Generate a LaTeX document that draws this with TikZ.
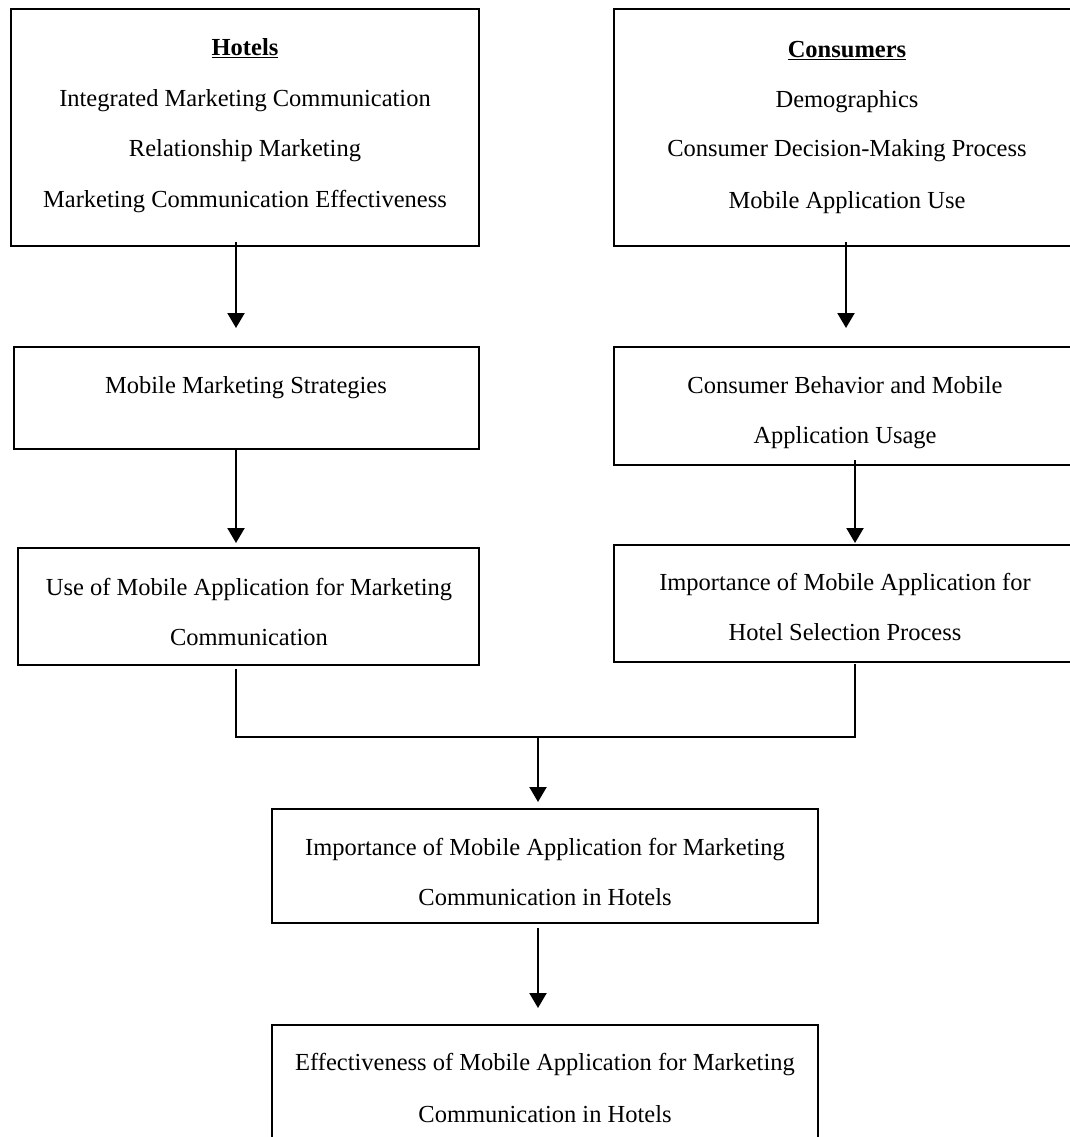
\documentclass[tikz,border=0pt]{standalone}
\usepackage{fontspec}
\setmainfont{Liberation Serif}
\usetikzlibrary{arrows.meta}
\tikzset{
  box/.style={draw, line width=1.7pt, rectangle, inner sep=0pt, outer sep=0pt},
  txt/.style={anchor=base, inner sep=0pt, font=\fontsize{24.5}{28}\selectfont},
  arr/.style={line width=2.2pt, -{Triangle[length=15pt,width=17pt]}},
  link/.style={line width=1.7pt}
}
\begin{document}
\begin{tikzpicture}[x=1pt,y=-1pt]
\useasboundingbox (0,0) rectangle (1070,1137);
\clip (0,0) rectangle (1070,1137);
\fill[white] (0,0) rectangle (1070,1137);
% boxes
\node[box, minimum width=468pt, minimum height=237pt] (b1) at (245,127.5) {};
\node[box, minimum width=464pt, minimum height=237pt] (b2) at (846,127.5) {};
\node[box, minimum width=465pt, minimum height=102pt] (b3) at (246.5,398) {};
\node[box, minimum width=464pt, minimum height=118pt] (b4) at (846,406) {};
\node[box, minimum width=461pt, minimum height=117pt] (b5) at (248.5,606.5) {};
\node[box, minimum width=464pt, minimum height=117pt] (b6) at (846,603.5) {};
\node[box, minimum width=546pt, minimum height=114pt] (b7) at (545,866) {};
\node[box, minimum width=546pt, minimum height=125pt] (b8) at (545,1087.5) {};
% texts
\node[txt] (t1a) at (245,56) {\underline{\textbf{Hotels}}};
\node[txt] (t1b) at (245,107) {Integrated Marketing Communication};
\node[txt] (t1c) at (245,157) {Relationship Marketing};
\node[txt] (t1d) at (245,207) {Marketing Communication Effectiveness};
\node[txt] (t2a) at (847,58) {\underline{\textbf{Consumers}}};
\node[txt] (t2b) at (847,108) {Demographics};
\node[txt] (t2c) at (847,157) {Consumer Decision-Making Process};
\node[txt] (t2d) at (847,208) {Mobile Application Use};
\node[txt] (t3a) at (246,393) {Mobile Marketing Strategies};
\node[txt] (t4a) at (845,393) {Consumer Behavior and Mobile};
\node[txt] (t4b) at (845,443) {Application Usage};
\node[txt] (t5a) at (249,595) {Use of Mobile Application for Marketing};
\node[txt] (t5b) at (249,645) {Communication};
\node[txt] (t6a) at (845,590) {Importance of Mobile Application for};
\node[txt] (t6b) at (845,640) {Hotel Selection Process};
\node[txt] (t7a) at (545,855) {Importance of Mobile Application for Marketing};
\node[txt] (t7b) at (545,905) {Communication in Hotels};
\node[txt] (t8a) at (545,1070) {Effectiveness of Mobile Application for Marketing};
\node[txt] (t8b) at (545,1122) {Communication in Hotels};
% connectors
\coordinate (j) at (538,737);
\draw[arr] ([xshift=-9pt,yshift=4pt]b1.south) -- ([xshift=-10.5pt,yshift=19pt]b3.north);
\draw[arr] ([yshift=4pt]b2.south) -- ([yshift=19pt]b4.north);
\draw[arr] ([xshift=-10.5pt]b3.south) -- ([xshift=-12.5pt,yshift=5pt]b5.north);
\draw[arr] ([xshift=9pt,yshift=5pt]b4.south) -- ([xshift=9pt,yshift=2pt]b6.north);
\draw[link] ([xshift=-12.5pt,yshift=-4pt]b5.south) |- (j);
\draw[link] ([xshift=9pt,yshift=-2pt]b6.south) |- (j);
\draw[arr] (j) -- ([xshift=-7pt,yshift=7pt]b7.north);
\draw[arr] ([xshift=-7pt,yshift=-5pt]b7.south) -- ([xshift=-7pt,yshift=17pt]b8.north);
\end{tikzpicture}
\end{document}
